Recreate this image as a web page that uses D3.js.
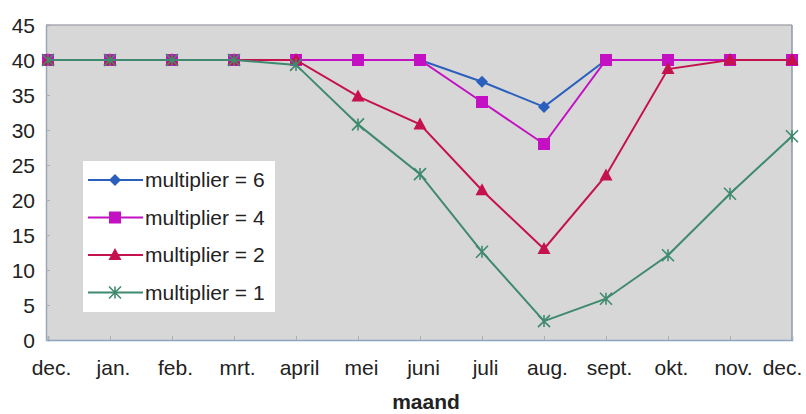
<!DOCTYPE html>
<html>
<head>
<meta charset="utf-8">
<script src="https://cdn.jsdelivr.net/npm/d3@7"></script>
<style>
  body { margin: 0; background: #fff; }
  text { font-family: "Liberation Sans", Arial, sans-serif; fill: #222; }
</style>
</head>
<body>
<svg id="chart" width="806" height="414"></svg>
<script>
const months = ["dec.", "jan.", "feb.", "mrt.", "april", "mei", "juni", "juli", "aug.", "sept.", "okt.", "nov.", "dec. "];
const yTicks = [0, 5, 10, 15, 20, 25, 30, 35, 40, 45];
const seriesNames = ["multiplier = 6", "multiplier = 4", "multiplier = 2", "multiplier = 1"];
const mult6 = [40, 40, 40, 40, 40, 40, 40, 36.9, 33.3, 40, 40, 40, 40];
const mult4 = [40, 40, 40, 40, 40, 40, 40, 34, 28, 40, 40, 40, 40];
const mult2 = [40, 40, 40, 40, 40, 34.8, 30.8, 21.4, 13, 23.5, 38.7, 40, 40];
const mult1 = [40, 40, 40, 40, 39.3, 30.8, 23.7, 12.6, 2.7, 5.9, 12.1, 20.9, 29.1];

const colors = ["#2b5fbd", "#c210c2", "#c5124e", "#3f8a6e"];
const shapes = ["diamond", "square", "triangle", "x"];
const data = [mult6, mult4, mult2, mult1];

const svg = d3.select("#chart");
const pLeft = 46, pRight = 792, pTop = 25, pBottom = 340;

const x = d3.scalePoint().domain(d3.range(months.length)).range([48, 792]).padding(0);
const y = d3.scaleLinear().domain([0, 45]).range([pBottom, pTop]);

// plot background
svg.append("rect").attr("x", pLeft).attr("y", pTop).attr("width", pRight - pLeft).attr("height", pBottom - pTop)
  .attr("fill", "#d7d7d7").attr("stroke", "none");
svg.append("line").attr("x1", pLeft).attr("x2", pRight).attr("y1", pTop).attr("y2", pTop).attr("stroke", "#a9a9b0").attr("stroke-width", 1.5);
svg.append("line").attr("x1", pRight).attr("x2", pRight).attr("y1", pTop).attr("y2", pBottom).attr("stroke", "#8f98a8").attr("stroke-width", 1.5);

// y axis
const yAxis = d3.axisLeft(y).tickValues(yTicks).tickSize(-4).tickPadding(11);
const gy = svg.append("g").attr("transform", `translate(${pLeft},0)`).call(yAxis);
gy.select(".domain").attr("stroke", "#9aa6b8").attr("stroke-width", 1.5);
gy.selectAll(".tick line").attr("stroke", "#a8b0bc");
gy.selectAll("text").style("font-size", "21px").attr("fill", "#222").attr("dy", "0.35em");

// x axis
const xAxis = d3.axisBottom(x).tickSize(-4).tickPadding(20).tickFormat(i => months[i]);
const gx = svg.append("g").attr("transform", `translate(0,${pBottom})`).call(xAxis);
gx.select(".domain").attr("stroke", "#8ea4c0").attr("stroke-width", 1.5);
gx.selectAll(".tick line").attr("stroke", "#a8b0bc");
gx.selectAll("text").style("font-size", "21px").attr("fill", "#222").attr("dy", "0.7em")
  .attr("dx", (d, i) => i === months.length - 1 ? "-10" : "3");

svg.append("text").attr("x", 426).attr("y", 409).attr("text-anchor", "middle")
  .style("font-size", "21px").style("font-weight", "bold").text("maand");

function marker(g, shape, color, cx, cy) {
  if (shape === "diamond") {
    g.append("path").attr("d", `M${cx},${cy-6}L${cx+6},${cy}L${cx},${cy+6}L${cx-6},${cy}Z`).attr("fill", color);
  } else if (shape === "square") {
    g.append("rect").attr("x", cx - 6).attr("y", cy - 6).attr("width", 12).attr("height", 12).attr("fill", color);
  } else if (shape === "triangle") {
    g.append("path").attr("d", `M${cx},${cy-7}L${cx+6.5},${cy+5}L${cx-6.5},${cy+5}Z`).attr("fill", color);
  } else {
    g.append("path").attr("d", `M${cx-6},${cy-6}L${cx+6},${cy+6}M${cx-6},${cy+6}L${cx+6},${cy-6}M${cx},${cy-6}L${cx},${cy+6}`)
      .attr("stroke", color).attr("stroke-width", 1.6).attr("fill", "none");
  }
}

const line = d3.line().x((d, i) => x(i)).y(d => y(d));
data.forEach((vals, s) => {
  const g = svg.append("g");
  g.append("path").datum(vals).attr("d", line).attr("fill", "none").attr("stroke", colors[s]).attr("stroke-width", 2);
  vals.forEach((v, i) => marker(g, shapes[s], colors[s], x(i), y(v)));
});

// legend
const lg = svg.append("g");
lg.append("rect").attr("x", 83).attr("y", 161).attr("width", 192).attr("height", 151).attr("fill", "#ffffff");
seriesNames.forEach((name, s) => {
  const cy = 180 + s * 37.5;
  lg.append("line").attr("x1", 88).attr("x2", 143).attr("y1", cy).attr("y2", cy).attr("stroke", colors[s]).attr("stroke-width", 2);
  marker(lg, shapes[s], colors[s], 115, cy);
  lg.append("text").attr("x", 145).attr("y", cy).attr("dy", "0.35em").style("font-size", "21px").text(name);
});
</script>
</body>
</html>
